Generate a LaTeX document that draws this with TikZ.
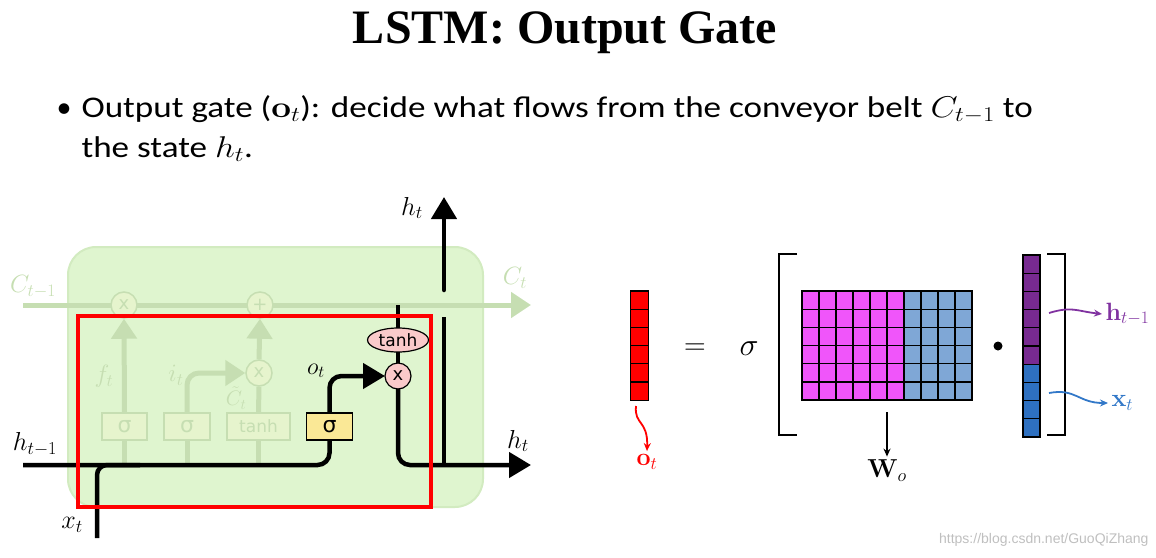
\RequirePackage{fix-cm}
\documentclass[tikz,border=0pt]{standalone}
\usepackage{amsmath}
\usepackage[no-math]{fontspec}
\setmainfont{Carlito}
\newfontfamily\titleFont{Liberation Serif}
\newfontfamily\symFont{DejaVu Sans}
\newfontfamily\markFont{Liberation Sans}
\usetikzlibrary{arrows.meta,positioning,calc,shapes.geometric}
\definecolor{cellGreen}{RGB}{223,245,207}
\definecolor{cellEdge}{RGB}{210,235,192}
\definecolor{fadeGreen}{RGB}{198,222,178}
\definecolor{fadeFill}{RGB}{230,244,205}
\definecolor{gateYellow}{RGB}{250,232,150}
\definecolor{gatePink}{RGB}{250,202,202}
\definecolor{matPink}{RGB}{240,85,250}
\definecolor{matBlue}{RGB}{127,167,214}
\definecolor{vecPurple}{RGB}{120,42,145}
\definecolor{vecBlue}{RGB}{46,112,192}
\definecolor{labPurple}{RGB}{128,50,160}
\definecolor{labBlue}{RGB}{50,120,200}
\tikzset{
    cellBox/.style={
        ,   draw=cellEdge
        ,   fill=cellGreen
        ,   line width=2
        ,   rounded corners=28
        ,   minimum width=415
        ,   minimum height=260
    },
    fadeLine/.style={
        ,   draw=fadeGreen
        ,   line width=5
    },
    fadeArrow/.style={
        ,   fadeLine
        ,   -{Triangle[length=20,width=25]}
    },
    fadeCirc/.style={ % faded pointwise op
        ,   circle
        ,   draw=fadeGreen
        ,   fill=fadeFill
        ,   line width=1.5
        ,   minimum size=26
        ,   inner sep=0
        ,   text=fadeGreen
        ,   font=\symFont\fontsize{18}{18}\selectfont
    },
    fadeGate/.style={
        ,   draw=fadeGreen
        ,   fill=fadeFill
        ,   line width=1.5
        ,   minimum width=#1
        ,   minimum height=27
        ,   inner sep=0
        ,   text=fadeGreen
    },
    fadeLabel/.style={
        ,   text=fadeGreen
        ,   font=\fontsize{25}{28}\selectfont
    },
    outGate/.style={
        ,   draw=black
        ,   fill=gateYellow
        ,   line width=1.5
        ,   minimum width=46
        ,   minimum height=27
        ,   inner sep=0
        ,   font=\symFont\fontsize{22}{22}\selectfont
    },
    pinkCirc/.style={
        ,   circle
        ,   draw=black
        ,   fill=gatePink
        ,   line width=1.2
        ,   minimum size=26
        ,   inner sep=0
        ,   font=\symFont\fontsize{18}{18}\selectfont
    },
    pinkEll/.style={
        ,   ellipse
        ,   draw=black
        ,   fill=gatePink
        ,   line width=1.2
        ,   minimum width=61
        ,   minimum height=24
        ,   inner sep=0
        ,   font=\symFont\fontsize{17}{17}\selectfont
    },
    blackLine/.style={
        ,   draw=black
        ,   line width=4.5
    },
    blackArrow/.style={
        ,   blackLine
        ,   -{Triangle[length=22,width=25]}
    },
    mathLabel/.style={
        ,   font=\fontsize{26}{30}\selectfont
    },
    matCell/.style={
        ,   draw=black
        ,   line width=1.2
    },
    curlyArrow/.style={
        ,   line width=1.8
        ,   -{Stealth[length=8,width=7]}
    },
    slideText/.style={
        ,   anchor=base west
        ,   font=\fontsize{30}{36}\selectfont
    },
}

\begin{document}
\begin{tikzpicture}[x=1pt,y=-1pt]
	\useasboundingbox (0,0) rectangle (1156,557);

	% title and bullet text
	\node[font=\titleFont\bfseries\fontsize{48}{52}\selectfont] (title) at (565,33) {LSTM: Output Gate};
	\node[font=\fontsize{30}{36}\selectfont, anchor=base] (bullet) at (64,117) {\textbullet};
	\node[slideText] (textA) at (78,117)
		{\scalebox{1.17}[1]{Output gate ($\mathbf{o}_t$): decide what flows from the conveyor belt $C_{t-1}$ to}};
	\node[slideText] (textB) at (78,157)
		{\scalebox{1.17}[1]{the state $h_t$.}};

	% LSTM cell (left)
	\node[cellBox] (cell) at (275.5,377) {};

	\coordinate (cin) at (23,305);
	\coordinate (cout) at (531,305);
	\draw[fadeArrow] (cin) -- (cout);
	\node[fadeCirc] (fmul) at (124,305) {x};
	\node[fadeCirc] (cadd) at (260,305) {+};
	\node[fadeLabel] (cinLab) at (33,287) {$C_{t-1}$};
	\node[fadeLabel] (coutLab) at (515,278) {$C_t$};

	\node[fadeGate=45, font=\symFont\fontsize{22}{22}\selectfont] (fgate) at (124.5,426.5) {σ};
	\node[fadeGate=46, font=\symFont\fontsize{22}{22}\selectfont] (igate) at (187,426.5) {σ};
	\node[fadeGate=63, font=\symFont\fontsize{17}{17}\selectfont] (cgate) at (258.5,426.5) {tanh};
	\node[fadeCirc] (imul) at (259,373) {x};
	\node[outGate] (ogate) at (329.5,426.5) {σ};

	\coordinate (hin) at (23,465);
	\coordinate (xin) at (97,538);
	\coordinate (xjoin) at (140,465);
	\coordinate (hout) at (531,465);

	% faded gate wiring
	\foreach \g in {fgate,igate,cgate}{
	\draw[fadeLine] (\g.south) -- (\g.south |- hin);
	}
	\draw[fadeArrow] (fgate.north) -- (fmul.south);
	\draw[fadeArrow, rounded corners=12] (igate.north) |- (imul.west);
	\draw[fadeLine] (cgate.north) -- (imul.south);
	\draw[fadeArrow] (imul.north) -- (cadd.south);
	\node[fadeLabel] (fLab) at (104,376) {$f_t$};
	\node[fadeLabel] (iLab) at (176,375) {$i_t$};
	\node[fadeLabel, inner sep=0, font=\fontsize{21}{24}\selectfont] (cLab) at (236,398) {$\tilde{C}_t$};

	% output gate path
	\coordinate (ctap) at (398,305);
	\draw[blackLine, rounded corners=12] (hin) -| (ogate.south);
	\draw[blackLine, rounded corners=10] (xin) |- (xjoin);
	\draw[blackArrow, rounded corners=12] (ogate.north) |- (385,376);
	\draw[blackLine] (ctap) -- (398,340);
	\draw[blackLine] (398,340) -- (398,376);
	\draw[blackArrow, rounded corners=12] (398,376) |- (hout);
	\node[pinkCirc] (omul) at (398,376) {x};
	\node[pinkEll] (otanh) at (398,340) {tanh};

	\coordinate (hsplit) at (444,465);
	\coordinate (hgapA) at (444,317);
	\coordinate (hgapB) at (444,290);
	\coordinate (hup) at (444,197);
	\draw[blackLine] (hsplit) -- (hgapA);
	\draw[blackArrow, line cap=round] (hgapB) -- (hup);

	\node[mathLabel] (hupLab) at (412,208) {$h_t$};
	\node[mathLabel] (hinLab) at (35,444) {$h_{t-1}$};
	\node[mathLabel] (houtLab) at (518,441) {$h_t$};
	\node[mathLabel] (xinLab) at (72,525) {$x_t$};
	\node[mathLabel, font=\fontsize{24}{28}\selectfont] (oLab) at (316,371) {$o_t$};

	% highlight
	\draw[red, line width=4.5] (78,316) rectangle (431,507);

	% equation (right)
	\node[draw=black, fill=red, line width=1.2, minimum width=18, minimum height=109.2, inner sep=0] (ovec) at (639.5,345.6) {};
	\foreach \r in {1,...,5}{
	\draw[matCell] (630.5,291+18.2*\r) -- ++(18,0);
	}
	\node[text=red, font=\fontsize{25}{28}\selectfont] (olab) at (647,462) {$\mathbf{o}_t$};
	\coordinate (oTail) at (636,406);
	\draw[curlyArrow, red] (oTail) .. controls (634,425) and (648,420) .. (olab.north);

	\node[font=\fontsize{30}{36}\selectfont] (eq) at (695,349) {$=$};
	\node[font=\fontsize{32}{36}\selectfont] (sig) at (749,349) {$\sigma$};

	\coordinate (lbTop) at (797,254);
	\coordinate (lbBot) at (797,435);
	\draw[line width=2.5] (lbTop) -- ++(-18,0) -- ++(0,181) -- (lbBot);

	\node[minimum width=170, minimum height=109.2, inner sep=0] (wmat) at (887,345.6) {};
	\foreach \c in {0,...,5}{
	\foreach \r in {0,...,5}{
	\draw[matCell, fill=matPink] (802+17*\c,291+18.2*\r) rectangle ++(17,18.2);
	}
	}
	\foreach \c in {6,...,9}{
	\foreach \r in {0,...,5}{
	\draw[matCell, fill=matBlue] (802+17*\c,291+18.2*\r) rectangle ++(17,18.2);
	}
	}
	\draw[line width=2] (wmat.north west) rectangle (wmat.south east);
	\node[font=\fontsize{26}{30}\selectfont] (wlab) at (887,471) {$\mathbf{W}_o$};
	\draw[curlyArrow, black] ([yshift=-12]wmat.south) -- (wlab.north);

	\node[circle, fill=black, inner sep=0, minimum size=9] (dotop) at (998,346) {};

	\node[minimum width=17, minimum height=182, inner sep=0] (xvec) at (1031.5,346) {};
	\foreach \r in {0,...,5}{
	\draw[matCell, fill=vecPurple] (1023,255+18.2*\r) rectangle ++(17,18.2);
	}
	\foreach \r in {6,...,9}{
	\draw[matCell, fill=vecBlue] (1023,255+18.2*\r) rectangle ++(17,18.2);
	}

	\coordinate (rbTop) at (1047,254);
	\coordinate (rbBot) at (1047,435);
	\draw[line width=2.5] (rbTop) -- ++(18,0) -- ++(0,181) -- (rbBot);

	\node[text=labPurple, anchor=west, font=\fontsize{25}{28}\selectfont] (hlab) at (1102,314) {$\mathbf{h}_{t-1}$};
	\node[text=labBlue, anchor=west, font=\fontsize{25}{28}\selectfont] (xlab) at (1108,403) {$\mathbf{x}_t$};
	\coordinate (hTail) at (1049,313);
	\coordinate (xTail) at (1049,393);
	\draw[curlyArrow, labPurple] (hTail) .. controls (1072,306) and (1076,311) .. (hlab.west);
	\draw[curlyArrow, labBlue] (xTail) .. controls (1076,388) and (1078,403) .. (xlab.west);

	% watermark
	\node[text=black!25, anchor=east, font=\markFont\fontsize{14}{16}\selectfont] (mark) at (1152,540) {https://blog.csdn.net/GuoQiZhang};
\end{tikzpicture}
\end{document}
